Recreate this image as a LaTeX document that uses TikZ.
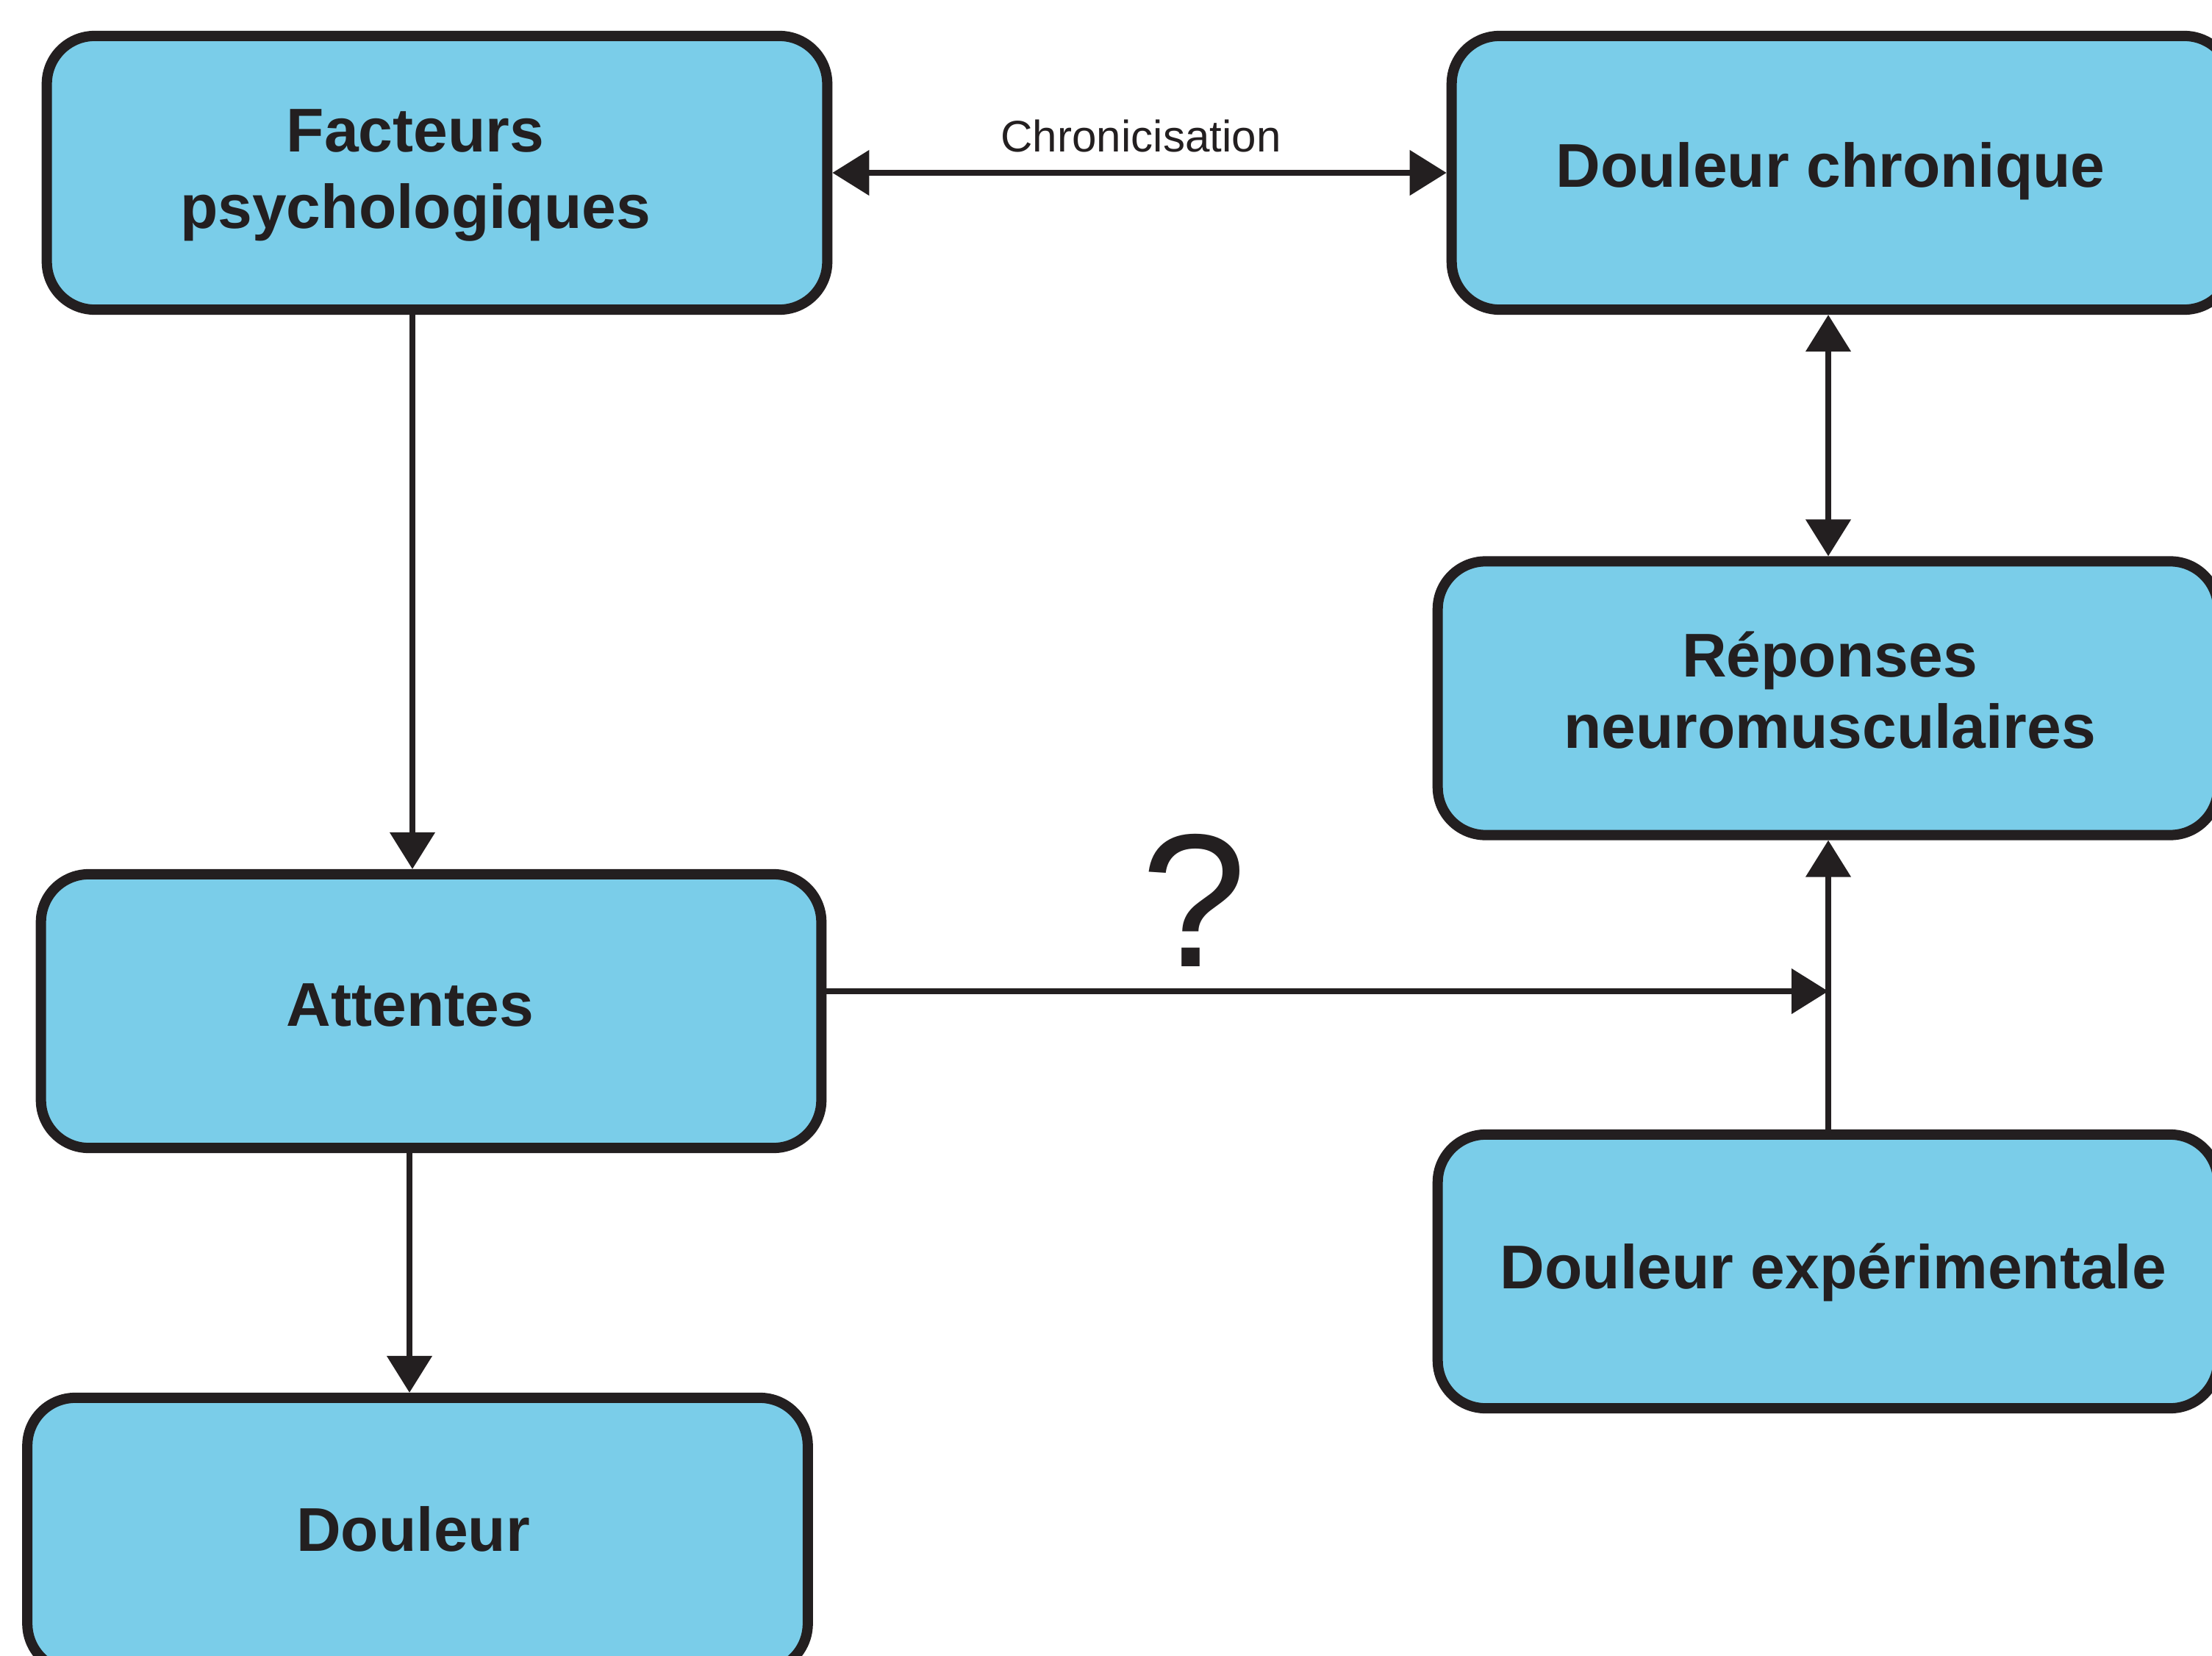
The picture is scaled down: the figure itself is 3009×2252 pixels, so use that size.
\documentclass[tikz,border=0pt]{standalone}
\usepackage{fontspec}
\setmainfont{Liberation Sans}
\usetikzlibrary{arrows.meta}
\definecolor{boxfill}{HTML}{7ACDE9}
\definecolor{ink}{HTML}{231F20}
\newcommand{\twolines}[2]{\vtop{\halign{\hfil##\hfil\cr #1\cr #2\cr}}}
\begin{document}
\begin{tikzpicture}[x=0.01cm,y=-0.01cm,
  box/.style={draw=ink, fill=boxfill, line width=0.14cm, rounded corners=0.65cm,
    minimum width=10.61cm, minimum height=3.72cm, inner sep=0pt},
  lbl/.style={text=ink, font=\fontsize{23.9}{29.3}\selectfont\bfseries, anchor=base, inner sep=0pt},
  small/.style={text=ink, font=\fontsize{17.1}{20}\selectfont, anchor=base, inner sep=0pt},
  qmark/.style={text=ink, font=\fontsize{73.4}{80}\selectfont, anchor=base, inner sep=0pt},
  tri/.tip={Triangle[length=0.5cm,width=0.6cm]},
  conn/.style={draw=ink, line width=0.08cm}]
\useasboundingbox (0,0) rectangle (3009,2252);
\clip (0,0) rectangle (3009,2252);

% boxes
\node[box] (fp)  at (594.5,235)  {};
\node[box] (dc)  at (2505.5,235) {};
\node[box] (rn)  at (2486.5,949.5) {};
\node[box] (att) at (586.5,1375) {};
\node[box] (de)  at (2486.5,1729) {};
\node[box] (dl)  at (568,2087) {};

% labels
\node[lbl] (fpt)  at (565,207) {\twolines{Facteurs}{psychologiques}};
\node[lbl] (dct)  at (2490,255) {Douleur chronique};
\node[lbl, font=\fontsize{23.9}{27.6}\selectfont\bfseries] (rnt) at (2489,920) {\twolines{Réponses}{neuromusculaires}};
\node[lbl] (attt) at (558,1395) {Attentes};
\node[lbl] (det)  at (2494,1752) {Douleur expérimentale};
\node[lbl] (dlt)  at (562,2109) {Douleur};
\node[small] (chr) at (1552,207) {Chronicisation};
\node[qmark] (q) at (1624,1314) {?};

% column coordinates
\coordinate (colA) at (561,0);
\coordinate (colB) at (557,0);
\coordinate (colR) at (2487,0);
\coordinate (hq) at (2487,1348);

% connectors
\draw[conn, tri-tri] (fp.east) -- (dc.west);
\draw[conn, tri-tri] (dc.south -| colR) -- (rn.north -| colR);
\draw[conn, -tri] (de.north -| colR) -- (rn.south -| colR);
\draw[conn, -tri] (att.east |- hq) -- (hq);
\draw[conn, -tri] (fp.south -| colA) -- (att.north -| colA);
\draw[conn, -tri] (att.south -| colB) -- (dl.north -| colB);
\end{tikzpicture}
\end{document}
